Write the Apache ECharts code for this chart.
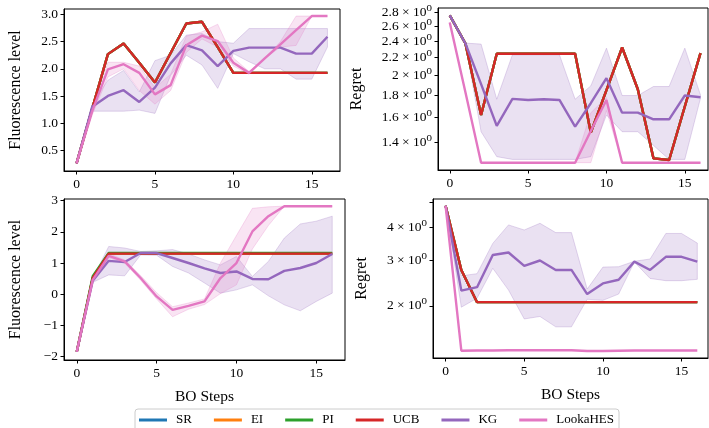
<!DOCTYPE html>
<html>
<head>
<meta charset="utf-8">
<script src="https://cdn.jsdelivr.net/npm/echarts@6/dist/echarts.min.js"></script>
<style>html,body{margin:0;padding:0;background:#fff}#c{width:709px;height:428px}</style>
</head>
<body>
<div id="c"></div>
<script>
const steps = [0,1,2,3,4,5,6,7,8,9,10,11,12,13,14,15,16];
const methods = ['SR','EI','PI','UCB','KG','LookaHES'];
const xTicks = [0,5,10,15];
const p1Ticks = [0.5,1.0,1.5,2.0,2.5,3.0];
const p2Ticks = [1.4,1.6,1.8,2.0,2.2,2.4,2.6,2.8];
const p3Ticks = [-2,-1,0,1,2,3];
const p4Ticks = [2,3,4];
const p4MinorTicks = [2,3,4,5];

// Panel 1 (top-left): Fluorescence level
const p1UCB = [0.26,1.27,2.27,2.466,2.11,1.747,2.29,2.834,2.865,2.40,1.925,1.925,1.925,1.925,1.925,1.925,1.925];
const p1KG = [0.26,1.30,1.50,1.606,1.39,1.655,2.10,2.435,2.34,2.05,2.33,2.39,2.39,2.39,2.28,2.28,2.59];
const p1KGhi = [0.26,1.36,1.79,1.97,1.575,2.15,2.25,2.62,2.65,2.50,2.47,2.74,2.74,2.74,2.74,2.74,2.74];
const p1KGlo = [0.26,1.22,1.22,1.22,1.24,1.18,1.88,2.25,2.07,1.64,2.28,2.13,2.0,2.0,1.81,1.81,2.40];
const p1LH = [0.26,1.22,1.99,2.085,1.925,1.53,1.70,2.435,2.61,2.51,2.11,1.925,2.19,2.45,2.71,2.97,2.97];
const p1LHhi = [0.26,1.28,2.12,2.12,2.05,1.65,1.9,2.6,2.68,2.82,2.2,1.95,2.19,2.5,2.97,2.97,2.97];
const p1LHlo = [0.26,1.15,1.85,2.0,1.6,1.35,1.6,2.3,2.55,2.4,2.05,1.9,2.19,2.40,2.43,2.97,2.97];

// Panel 2 (top-right): Regret (log)
const p2UCB = [2.75,2.37,1.622,2.244,2.244,2.244,2.244,2.244,2.244,1.477,1.85,2.32,1.859,1.288,1.277,1.696,2.252];
const p2KG = [2.751,2.37,1.91,1.530,1.766,1.756,1.763,1.756,1.524,1.726,1.971,1.642,1.642,1.585,1.585,1.798,1.782];
const p2KGhi = [2.751,2.375,2.362,1.763,2.232,2.232,2.232,2.232,1.763,1.892,2.312,1.798,1.798,1.886,1.886,2.312,1.804];
const p2KGlo = [2.751,2.36,1.484,1.300,1.281,1.281,1.281,1.281,1.281,1.30,1.622,1.484,1.484,1.38,1.281,1.281,1.772];
const p2LH = [2.65,1.83,1.259,1.259,1.259,1.259,1.259,1.259,1.259,1.49,1.756,1.259,1.259,1.259,1.259,1.259,1.259];
const p2LHhi = [2.65,1.83,1.259,1.259,1.259,1.259,1.259,1.259,1.259,1.64,1.78,1.259,1.259,1.259,1.259,1.259,1.259];
const p2LHlo = [2.65,1.83,1.259,1.259,1.259,1.259,1.259,1.259,1.259,1.259,1.66,1.259,1.259,1.259,1.259,1.259,1.259];

// Panel 3 (bottom-left): Fluorescence level
const p3UCB = [-1.84,0.52,1.30,1.30,1.30,1.30,1.30,1.30,1.30,1.30,1.30,1.30,1.30,1.30,1.30,1.30,1.30];
const p3PI = [-1.84,0.58,1.32,1.32,1.32,1.32,1.32,1.32,1.32,1.32,1.32,1.32,1.32,1.32,1.32,1.32,1.32];
const p3KG = [-1.84,0.43,1.07,1.03,1.32,1.32,1.16,1.0,0.83,0.68,0.73,0.49,0.48,0.75,0.84,1.0,1.29];
const p3KGhi = [-1.84,0.50,1.53,1.48,1.37,1.39,1.43,1.29,1.10,0.94,1.21,0.57,1.05,1.80,2.25,2.34,2.50];
const p3KGlo = [-1.84,0.38,0.62,0.59,1.26,1.25,0.89,0.68,0.36,0.035,0.14,0.30,-0.05,-0.34,-0.53,-0.23,0.035];
const p3LH = [-1.84,0.46,1.23,1.05,0.52,-0.07,-0.50,-0.37,-0.23,0.52,1.0,2.01,2.50,2.82,2.82,2.82,2.82];
const p3LHhi = [-1.84,0.50,1.30,1.10,0.60,0.05,-0.40,-0.28,-0.15,1.0,1.88,2.75,2.80,2.82,2.82,2.82,2.82];
const p3LHlo = [-1.84,0.42,1.17,1.00,0.45,-0.15,-0.72,-0.48,-0.33,0.02,0.30,1.45,2.20,2.82,2.82,2.82,2.82];

// Panel 4 (bottom-right): Regret (log)
const p4UCB = [4.86,2.75,2.066,2.066,2.066,2.066,2.066,2.066,2.066,2.066,2.066,2.066,2.066,2.066,2.066,2.066,2.066];
const p4KG = [4.86,2.29,2.36,3.14,3.21,2.85,2.99,2.75,2.75,2.22,2.44,2.52,2.96,2.75,3.09,3.09,2.96];
const p4KGhi = [4.86,2.61,2.66,3.48,4.10,3.92,4.16,3.83,3.83,2.32,2.82,2.83,2.97,3.03,3.80,3.80,3.49];
const p4KGlo = [4.86,1.976,2.14,2.79,2.30,1.78,1.82,1.66,1.66,2.12,2.10,2.22,2.95,2.55,2.50,2.50,2.53];
const p4LH = [4.86,1.343,1.345,1.345,1.348,1.348,1.348,1.348,1.348,1.34,1.34,1.343,1.345,1.345,1.345,1.345,1.345];

const colors = {SR:'#1f77b4', EI:'#ff7f0e', PI:'#2ca02c', UCB:'#d62728', KG:'#9467bd', LookaHES:'#e377c2'};
const FONT = "'Liberation Serif','DejaVu Serif',serif";

function rgba(hex, a){
  const n = parseInt(hex.slice(1),16);
  return `rgba(${(n>>16)&255},${(n>>8)&255},${n&255},${a})`;
}
function line(name, data, idx){
  return {type:'line', name, xAxisIndex:idx, yAxisIndex:idx, z:3,
    data: data.map((v,i)=>[steps[i], v]), showSymbol:false, symbol:'none',
    lineStyle:{width:2.4, color:colors[name]}, itemStyle:{color:colors[name]},
    emphasis:{disabled:true}, animation:false, clip:true};
}
function band(name, lo, hi, idx){
  return {type:'custom', name: name+' band', xAxisIndex:idx, yAxisIndex:idx, z:1, silent:true,
    data:[0], animation:false,
    renderItem:(params, api)=>{
      const pts=[];
      for(let i=0;i<hi.length;i++) pts.push(api.coord([steps[i], hi[i]]));
      for(let i=lo.length-1;i>=0;i--) pts.push(api.coord([steps[i], lo[i]]));
      return {type:'polygon', shape:{points:pts},
        style:{fill:rgba(colors[name],0.2), stroke:rgba(colors[name],0.25), lineWidth:1}};
    }};
}
const grids = [
  {left:64, top:9, width:276, height:162},
  {left:438, top:8, width:270, height:162},
  {left:64, top:199, width:281, height:161},
  {left:433, top:199, width:275, height:159}
].map(g=>Object.assign(g,{show:true, borderColor:'#000', borderWidth:1, containLabel:false}));

const xr = [[-0.8,16.8],[-0.75,16.48],[-0.8,16.8],[-0.8,16.68]];
const xAxes = xr.map((r,i)=>({
  type:'value', gridIndex:i, min:r[0], max:r[1],
  name: i>=2 ? 'BO Steps' : '', nameLocation:'middle', nameGap:29,
  nameTextStyle:{fontFamily:FONT, fontSize:15.5, color:'#000'},
  axisLine:{show:true, onZero:false, lineStyle:{color:'#000', width:1}},
  axisTick:{show:true, length:3.5, lineStyle:{color:'#000', width:1}, customValues:xTicks},
  axisLabel:{fontFamily:FONT, fontSize:13.5, color:'#000', margin:6, customValues:xTicks},
  splitLine:{show:false}
}));
const logFmt = v => `${+(+v).toFixed(1)} × 10⁰`;
const yAxes = [
  {type:'value', gridIndex:0, min:0.12, max:3.10, name:'Fluorescence level', nameGap:40,
   ticks:p1Ticks, labels:p1Ticks, fmt:v=>(+v).toFixed(1)},
  {type:'log', gridIndex:1, min:1.211, max:2.861, name:'Regret', nameGap:73,
   ticks:p2Ticks, labels:p2Ticks, fmt:logFmt},
  {type:'value', gridIndex:2, min:-2.106, max:3.05, name:'Fluorescence level', nameGap:40,
   ticks:p3Ticks, labels:p3Ticks, fmt:v=>(v<0?'−'+Math.abs(v):String(v))},
  {type:'log', gridIndex:3, min:1.259, max:5.16, name:'Regret', nameGap:63,
   ticks:p4MinorTicks, labels:p4Ticks, fmt:logFmt}
].map(a=>({
  type:a.type, gridIndex:a.gridIndex, min:a.min, max:a.max, logBase:10,
  name:a.name, nameLocation:'middle', nameGap:a.nameGap, nameRotate:90,
  nameTextStyle:{fontFamily:FONT, fontSize:16, color:'#000'},
  axisLine:{show:true, onZero:false, lineStyle:{color:'#000', width:1}},
  axisTick:{show:true, length:3.5, lineStyle:{color:'#000', width:1}, customValues:a.ticks},
  axisLabel:{fontFamily:FONT, fontSize:13.5, color:'#000', margin:6, customValues:a.labels, formatter:a.fmt},
  splitLine:{show:false}, minorTick:{show:false}
}));

const panels = [
  {UCB:p1UCB, PI:p1UCB, KG:p1KG, KGlo:p1KGlo, KGhi:p1KGhi, LH:p1LH, LHlo:p1LHlo, LHhi:p1LHhi},
  {UCB:p2UCB, PI:p2UCB, KG:p2KG, KGlo:p2KGlo, KGhi:p2KGhi, LH:p2LH, LHlo:p2LHlo, LHhi:p2LHhi},
  {UCB:p3UCB, PI:p3PI, KG:p3KG, KGlo:p3KGlo, KGhi:p3KGhi, LH:p3LH, LHlo:p3LHlo, LHhi:p3LHhi},
  {UCB:p4UCB, PI:p4UCB, KG:p4KG, KGlo:p4KGlo, KGhi:p4KGhi, LH:p4LH, LHlo:null, LHhi:null}
];
const series = [];
panels.forEach((p,i)=>{
  series.push(band('KG', p.KGlo, p.KGhi, i));
  if (p.LHlo) series.push(band('LookaHES', p.LHlo, p.LHhi, i));
  series.push(line('SR', p.UCB, i));
  series.push(line('EI', p.UCB, i));
  series.push(line('PI', p.PI, i));
  series.push(line('UCB', p.UCB, i));
  series.push(line('KG', p.KG, i));
  series.push(line('LookaHES', p.LH, i));
});

const chart = echarts.init(document.getElementById('c'), null, {renderer:'canvas'});
chart.setOption({
  animation:false,
  backgroundColor:'#fff',
  grid:grids, xAxis:xAxes, yAxis:yAxes,
  legend:{
    data:methods.map(m=>({name:m, icon:'rect', itemStyle:{color:colors[m]}})),
    left:135, top:409, orient:'horizontal',
    itemWidth:28, itemHeight:3, itemGap:22,
    padding:[3,5,8,4], borderColor:'#ccc', borderWidth:1, borderRadius:3,
    backgroundColor:'rgba(255,255,255,0.8)',
    textStyle:{fontFamily:FONT, fontSize:13, color:'#000', lineHeight:16, padding:[0,0,0,4]},
    selectedMode:false
  },
  series
});
</script>
</body>
</html>
